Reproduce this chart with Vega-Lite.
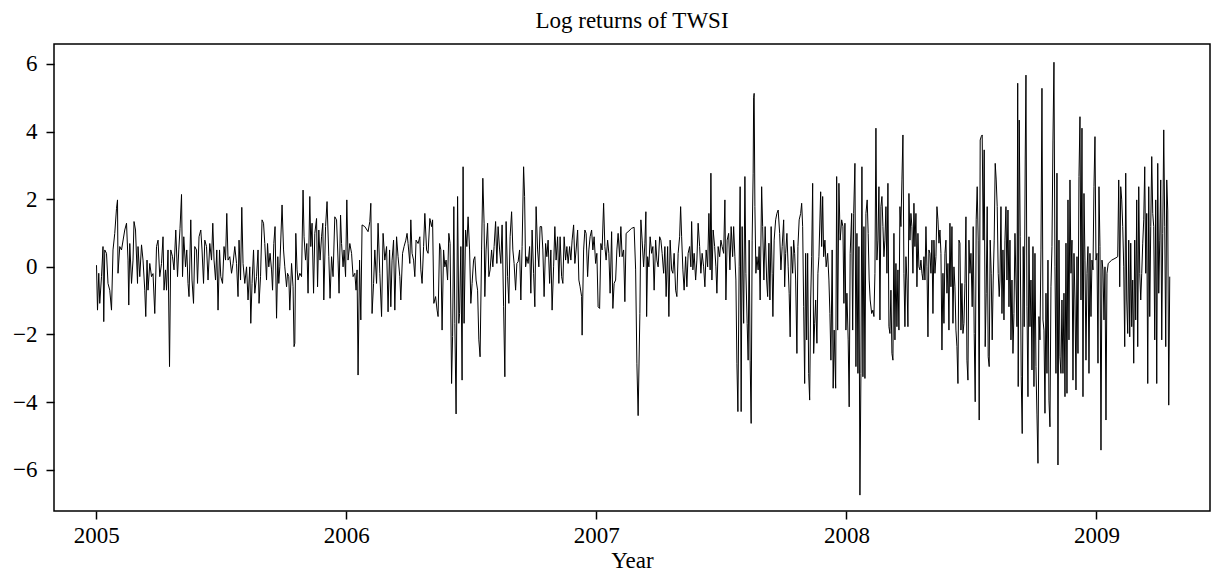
{
"$schema": "https://vega.github.io/schema/vega-lite/v6.json",
"width": 1156, "height": 467,
"autosize": {"type": "none"},
"padding": {"left": 54, "top": 44, "right": 1, "bottom": 66},
"background": "white",
"config": {"view": {"stroke": "black", "strokeWidth": 1.5}, "font": "Liberation Serif"},
"title": {"text": "Log returns of TWSI", "font": "Liberation Serif", "fontSize": 23, "fontWeight": "normal", "color": "black", "anchor": "middle", "offset": 11},
"data": {"values": [
{"t":2005.001,"v":0.05},{"t":2005.005,"v":-1.28},{"t":2005.010,"v":-0.19},{"t":2005.014,"v":-1.08},{"t":2005.021,"v":-0.29},{"t":2005.027,"v":0.60},{"t":2005.030,"v":-1.62},{"t":2005.034,"v":0.50},{"t":2005.041,"v":0.40},{"t":2005.047,"v":-0.49},{"t":2005.054,"v":-0.69},{"t":2005.061,"v":-1.28},{"t":2005.067,"v":0.50},{"t":2005.074,"v":0.99},{"t":2005.081,"v":1.73},{"t":2005.085,"v":1.98},{"t":2005.087,"v":-0.19},{"t":2005.094,"v":0.60},{"t":2005.101,"v":0.50},{"t":2005.114,"v":1.09},{"t":2005.121,"v":1.29},{"t":2005.127,"v":0.20},{"t":2005.130,"v":-1.13},{"t":2005.134,"v":0.69},{"t":2005.141,"v":-0.49},{"t":2005.147,"v":0.20},{"t":2005.151,"v":1.34},{"t":2005.157,"v":1.09},{"t":2005.165,"v":-0.49},{"t":2005.167,"v":0.60},{"t":2005.174,"v":-0.29},{"t":2005.181,"v":0.65},{"t":2005.187,"v":0.20},{"t":2005.194,"v":-0.69},{"t":2005.198,"v":-1.47},{"t":2005.203,"v":0.20},{"t":2005.207,"v":-0.69},{"t":2005.214,"v":0.10},{"t":2005.221,"v":-0.29},{"t":2005.227,"v":-0.20},{"t":2005.234,"v":-1.38},{"t":2005.241,"v":0.60},{"t":2005.247,"v":0.79},{"t":2005.254,"v":-0.29},{"t":2005.261,"v":0.10},{"t":2005.267,"v":0.89},{"t":2005.271,"v":-0.69},{"t":2005.277,"v":-0.09},{"t":2005.281,"v":-0.69},{"t":2005.287,"v":0.50},{"t":2005.293,"v":-2.95},{"t":2005.298,"v":0.50},{"t":2005.305,"v":0.30},{"t":2005.311,"v":-0.09},{"t":2005.318,"v":1.09},{"t":2005.325,"v":-0.29},{"t":2005.330,"v":0.50},{"t":2005.335,"v":1.14},{"t":2005.341,"v":2.14},{"t":2005.345,"v":-0.29},{"t":2005.350,"v":0.89},{"t":2005.357,"v":0.00},{"t":2005.362,"v":0.50},{"t":2005.367,"v":-0.49},{"t":2005.371,"v":-0.88},{"t":2005.378,"v":1.39},{"t":2005.383,"v":-0.39},{"t":2005.389,"v":-1.08},{"t":2005.394,"v":0.60},{"t":2005.401,"v":0.50},{"t":2005.405,"v":-0.49},{"t":2005.411,"v":0.89},{"t":2005.418,"v":1.09},{"t":2005.423,"v":0.50},{"t":2005.429,"v":-0.49},{"t":2005.434,"v":0.79},{"t":2005.441,"v":0.60},{"t":2005.447,"v":-0.39},{"t":2005.454,"v":0.69},{"t":2005.461,"v":0.20},{"t":2005.466,"v":1.29},{"t":2005.471,"v":0.20},{"t":2005.477,"v":-0.39},{"t":2005.482,"v":0.50},{"t":2005.487,"v":-1.28},{"t":2005.493,"v":0.50},{"t":2005.498,"v":-0.29},{"t":2005.505,"v":-0.49},{"t":2005.511,"v":0.60},{"t":2005.517,"v":0.20},{"t":2005.522,"v":1.58},{"t":2005.527,"v":0.20},{"t":2005.534,"v":0.30},{"t":2005.541,"v":-0.19},{"t":2005.547,"v":0.10},{"t":2005.554,"v":0.60},{"t":2005.561,"v":0.10},{"t":2005.567,"v":-0.88},{"t":2005.571,"v":0.79},{"t":2005.577,"v":-0.39},{"t":2005.582,"v":1.76},{"t":2005.587,"v":0.10},{"t":2005.594,"v":-0.49},{"t":2005.601,"v":0.00},{"t":2005.607,"v":-0.98},{"t":2005.614,"v":0.00},{"t":2005.618,"v":-1.67},{"t":2005.623,"v":-0.49},{"t":2005.629,"v":0.50},{"t":2005.634,"v":-0.78},{"t":2005.641,"v":-0.29},{"t":2005.647,"v":0.50},{"t":2005.651,"v":-1.08},{"t":2005.657,"v":-0.29},{"t":2005.663,"v":1.39},{"t":2005.669,"v":1.29},{"t":2005.674,"v":0.69},{"t":2005.681,"v":-0.39},{"t":2005.685,"v":0.69},{"t":2005.690,"v":0.00},{"t":2005.695,"v":0.40},{"t":2005.701,"v":-0.09},{"t":2005.705,"v":-0.69},{"t":2005.710,"v":0.69},{"t":2005.715,"v":1.19},{"t":2005.721,"v":-1.52},{"t":2005.726,"v":0.30},{"t":2005.730,"v":-0.49},
{"t":2005.734,"v":0.00},{"t":2005.743,"v":1.83},{"t":2005.749,"v":0.50},{"t":2005.754,"v":0.00},{"t":2005.761,"v":-0.59},{"t":2005.765,"v":-0.19},{"t":2005.770,"v":-0.29},{"t":2005.774,"v":-1.28},{"t":2005.781,"v":0.10},{"t":2005.787,"v":-0.59},{"t":2005.791,"v":-2.36},{"t":2005.794,"v":-2.26},{"t":2005.798,"v":0.99},{"t":2005.803,"v":-0.09},{"t":2005.807,"v":-0.39},{"t":2005.814,"v":-0.19},{"t":2005.821,"v":-0.29},{"t":2005.827,"v":2.27},{"t":2005.831,"v":0.89},{"t":2005.837,"v":0.20},{"t":2005.842,"v":0.69},{"t":2005.847,"v":-0.78},{"t":2005.854,"v":2.08},{"t":2005.858,"v":0.60},{"t":2005.863,"v":1.29},{"t":2005.869,"v":-0.78},{"t":2005.874,"v":0.99},{"t":2005.881,"v":1.43},{"t":2005.885,"v":-0.59},{"t":2005.890,"v":1.09},{"t":2005.895,"v":0.20},{"t":2005.901,"v":0.89},{"t":2005.906,"v":1.29},{"t":2005.910,"v":-0.98},{"t":2005.917,"v":1.19},{"t":2005.923,"v":1.93},{"t":2005.930,"v":0.30},{"t":2005.935,"v":-0.93},{"t":2005.941,"v":0.30},{"t":2005.947,"v":-0.29},{"t":2005.954,"v":1.48},{"t":2005.961,"v":1.39},{"t":2005.967,"v":0.20},{"t":2005.971,"v":-0.78},{"t":2005.977,"v":1.53},{"t":2005.981,"v":0.69},{"t":2005.987,"v":0.00},{"t":2005.991,"v":0.50},{"t":2005.997,"v":-0.29},{"t":2006.002,"v":1.98},{"t":2006.007,"v":0.20},{"t":2006.014,"v":0.69},{"t":2006.021,"v":0.40},{"t":2006.027,"v":-0.29},{"t":2006.034,"v":-0.19},{"t":2006.039,"v":-0.69},{"t":2006.043,"v":-0.09},{"t":2006.047,"v":-3.20},{"t":2006.053,"v":0.20},{"t":2006.058,"v":-1.57},{"t":2006.063,"v":1.24},{"t":2006.074,"v":1.19},{"t":2006.087,"v":1.04},{"t":2006.094,"v":1.34},{"t":2006.098,"v":1.88},{"t":2006.103,"v":-1.38},{"t":2006.109,"v":-0.49},{"t":2006.114,"v":0.50},{"t":2006.121,"v":-0.49},{"t":2006.127,"v":1.29},{"t":2006.134,"v":-0.19},{"t":2006.141,"v":-1.47},{"t":2006.147,"v":0.99},{"t":2006.154,"v":0.20},{"t":2006.161,"v":0.60},{"t":2006.167,"v":-1.33},{"t":2006.173,"v":0.50},{"t":2006.178,"v":-1.18},{"t":2006.183,"v":0.20},{"t":2006.189,"v":0.79},{"t":2006.194,"v":-1.28},{"t":2006.201,"v":0.89},{"t":2006.207,"v":0.30},{"t":2006.214,"v":-0.29},{"t":2006.218,"v":-0.98},{"t":2006.225,"v":0.40},{"t":2006.231,"v":0.60},{"t":2006.238,"v":0.79},{"t":2006.243,"v":0.99},{"t":2006.247,"v":0.69},{"t":2006.254,"v":0.10},{"t":2006.258,"v":1.39},{"t":2006.263,"v":0.40},{"t":2006.269,"v":0.20},{"t":2006.274,"v":-0.29},{"t":2006.279,"v":0.79},{"t":2006.287,"v":0.69},{"t":2006.294,"v":0.89},{"t":2006.298,"v":-0.09},{"t":2006.303,"v":-0.49},{"t":2006.309,"v":0.60},{"t":2006.314,"v":1.58},{"t":2006.321,"v":0.50},{"t":2006.327,"v":0.40},{"t":2006.334,"v":1.43},{"t":2006.341,"v":1.19},{"t":2006.345,"v":1.39},{"t":2006.350,"v":-1.08},{"t":2006.357,"v":-0.88},{"t":2006.363,"v":-1.28},{"t":2006.367,"v":-1.47},{"t":2006.373,"v":0.69},{"t":2006.378,"v":0.50},{"t":2006.383,"v":-1.87},{"t":2006.389,"v":0.50},{"t":2006.394,"v":0.00},{"t":2006.399,"v":0.20},{"t":2006.405,"v":-0.39},{"t":2006.410,"v":0.99},{"t":2006.415,"v":0.69},{"t":2006.421,"v":-3.45},{"t":2006.425,"v":-2.06},{"t":2006.430,"v":1.78},{"t":2006.434,"v":-1.67},{"t":2006.439,"v":-4.35},{"t":2006.445,"v":2.08},{"t":2006.450,"v":-1.67},
{"t":2006.453,"v":-1.38},{"t":2006.458,"v":0.60},{"t":2006.463,"v":-3.35},{"t":2006.467,"v":2.96},{"t":2006.471,"v":-1.67},{"t":2006.477,"v":1.09},{"t":2006.482,"v":0.60},{"t":2006.487,"v":1.48},{"t":2006.493,"v":0.50},{"t":2006.498,"v":-1.08},{"t":2006.503,"v":-0.49},{"t":2006.509,"v":0.20},{"t":2006.514,"v":0.30},{"t":2006.519,"v":-0.39},{"t":2006.525,"v":-0.69},{"t":2006.530,"v":-2.16},{"t":2006.535,"v":-2.66},{"t":2006.541,"v":0.50},{"t":2006.546,"v":2.62},{"t":2006.551,"v":1.29},{"t":2006.554,"v":-0.88},{"t":2006.559,"v":0.50},{"t":2006.565,"v":1.29},{"t":2006.570,"v":-0.29},{"t":2006.575,"v":-0.09},{"t":2006.581,"v":0.50},{"t":2006.586,"v":0.00},{"t":2006.591,"v":0.60},{"t":2006.597,"v":1.34},{"t":2006.602,"v":0.10},{"t":2006.607,"v":1.19},{"t":2006.613,"v":0.50},{"t":2006.618,"v":0.10},{"t":2006.623,"v":1.24},{"t":2006.629,"v":-1.18},{"t":2006.634,"v":-3.25},{"t":2006.639,"v":1.34},{"t":2006.645,"v":-0.29},{"t":2006.650,"v":-1.08},{"t":2006.655,"v":0.89},{"t":2006.661,"v":1.63},{"t":2006.666,"v":0.50},{"t":2006.671,"v":0.10},{"t":2006.677,"v":-0.69},{"t":2006.682,"v":0.10},{"t":2006.687,"v":0.15},{"t":2006.693,"v":0.50},{"t":2006.698,"v":-0.98},{"t":2006.703,"v":0.60},{"t":2006.709,"v":2.96},{"t":2006.713,"v":2.08},{"t":2006.717,"v":0.00},{"t":2006.722,"v":0.30},{"t":2006.727,"v":0.10},{"t":2006.733,"v":0.60},{"t":2006.738,"v":-0.78},{"t":2006.743,"v":1.09},{"t":2006.749,"v":-0.19},{"t":2006.754,"v":-1.18},{"t":2006.759,"v":1.78},{"t":2006.765,"v":0.50},{"t":2006.770,"v":0.00},{"t":2006.775,"v":1.19},{"t":2006.781,"v":1.19},{"t":2006.786,"v":0.50},{"t":2006.791,"v":-0.88},{"t":2006.797,"v":0.69},{"t":2006.802,"v":0.30},{"t":2006.807,"v":0.79},{"t":2006.813,"v":-0.49},{"t":2006.818,"v":0.50},{"t":2006.823,"v":-1.28},{"t":2006.829,"v":0.00},{"t":2006.834,"v":1.19},{"t":2006.839,"v":0.20},{"t":2006.845,"v":0.89},{"t":2006.850,"v":-0.49},{"t":2006.855,"v":0.89},{"t":2006.861,"v":-0.29},{"t":2006.866,"v":-0.49},{"t":2006.871,"v":0.89},{"t":2006.877,"v":0.20},{"t":2006.882,"v":0.60},{"t":2006.887,"v":0.10},{"t":2006.893,"v":0.60},{"t":2006.898,"v":0.20},{"t":2006.903,"v":0.79},{"t":2006.909,"v":1.24},{"t":2006.914,"v":0.10},{"t":2006.919,"v":0.50},{"t":2006.925,"v":1.09},{"t":2006.930,"v":-0.39},{"t":2006.935,"v":-0.59},{"t":2006.941,"v":-0.88},{"t":2006.943,"v":-2.02},{"t":2006.949,"v":0.50},{"t":2006.954,"v":1.09},{"t":2006.959,"v":0.99},{"t":2006.965,"v":-0.29},{"t":2006.970,"v":0.50},{"t":2006.975,"v":0.89},{"t":2006.981,"v":1.09},{"t":2006.986,"v":0.50},{"t":2006.991,"v":0.89},{"t":2006.997,"v":0.10},{"t":2007.002,"v":0.40},{"t":2007.007,"v":-1.18},{"t":2007.013,"v":-1.23},{"t":2007.018,"v":0.69},{"t":2007.023,"v":0.50},{"t":2007.029,"v":1.88},{"t":2007.034,"v":0.60},{"t":2007.039,"v":0.20},{"t":2007.045,"v":0.79},{"t":2007.050,"v":0.40},{"t":2007.055,"v":-0.78},{"t":2007.061,"v":1.04},{"t":2007.066,"v":-1.23},{"t":2007.071,"v":-0.49},{"t":2007.077,"v":-0.39},{"t":2007.082,"v":0.50},{"t":2007.087,"v":0.99},{"t":2007.093,"v":0.30},{"t":2007.098,"v":1.19},{"t":2007.103,"v":0.30},{"t":2007.109,"v":0.50},{"t":2007.114,"v":-1.03},{"t":2007.119,"v":0.99},{"t":2007.127,"v":1.04},{"t":2007.141,"v":1.14},{"t":2007.151,"v":1.17},{"t":2007.157,"v":-0.09},{"t":2007.162,"v":-2.85},{"t":2007.167,"v":-4.40},
{"t":2007.174,"v":-1.38},{"t":2007.178,"v":1.39},{"t":2007.183,"v":0.79},{"t":2007.189,"v":0.00},{"t":2007.194,"v":0.70},{"t":2007.198,"v":1.63},{"t":2007.201,"v":-1.47},{"t":2007.205,"v":0.30},{"t":2007.210,"v":0.00},{"t":2007.215,"v":0.89},{"t":2007.221,"v":0.40},{"t":2007.226,"v":0.60},{"t":2007.231,"v":-0.69},{"t":2007.237,"v":0.79},{"t":2007.242,"v":0.20},{"t":2007.247,"v":0.00},{"t":2007.253,"v":0.89},{"t":2007.258,"v":0.79},{"t":2007.263,"v":0.40},{"t":2007.269,"v":-0.19},{"t":2007.274,"v":0.60},{"t":2007.279,"v":-0.88},{"t":2007.285,"v":0.60},{"t":2007.290,"v":-1.47},{"t":2007.295,"v":0.79},{"t":2007.301,"v":-0.09},{"t":2007.306,"v":-0.19},{"t":2007.311,"v":0.40},{"t":2007.317,"v":-0.69},{"t":2007.322,"v":-0.88},{"t":2007.327,"v":0.40},{"t":2007.333,"v":0.89},{"t":2007.337,"v":1.78},{"t":2007.341,"v":0.89},{"t":2007.346,"v":-0.09},{"t":2007.351,"v":-0.69},{"t":2007.357,"v":0.30},{"t":2007.362,"v":-0.59},{"t":2007.367,"v":0.40},{"t":2007.373,"v":0.60},{"t":2007.378,"v":0.00},{"t":2007.381,"v":1.34},{"t":2007.386,"v":-0.09},{"t":2007.391,"v":0.40},{"t":2007.397,"v":-0.39},{"t":2007.402,"v":0.20},{"t":2007.407,"v":1.29},{"t":2007.413,"v":0.60},{"t":2007.418,"v":-0.19},{"t":2007.423,"v":0.40},{"t":2007.429,"v":0.00},{"t":2007.434,"v":-0.59},{"t":2007.439,"v":0.50},{"t":2007.445,"v":0.00},{"t":2007.450,"v":1.58},{"t":2007.455,"v":-0.09},{"t":2007.458,"v":2.77},{"t":2007.462,"v":-0.39},{"t":2007.467,"v":1.09},{"t":2007.473,"v":0.60},{"t":2007.478,"v":0.00},{"t":2007.482,"v":-0.78},{"t":2007.487,"v":0.60},{"t":2007.493,"v":0.30},{"t":2007.498,"v":0.79},{"t":2007.503,"v":0.60},{"t":2007.509,"v":0.40},{"t":2007.514,"v":1.98},{"t":2007.518,"v":-0.98},{"t":2007.523,"v":0.79},{"t":2007.529,"v":0.99},{"t":2007.534,"v":-0.09},{"t":2007.539,"v":1.19},{"t":2007.545,"v":0.30},{"t":2007.549,"v":1.19},{"t":2007.554,"v":0.30},{"t":2007.558,"v":-0.39},{"t":2007.562,"v":-2.85},{"t":2007.566,"v":-4.28},{"t":2007.571,"v":0.00},{"t":2007.575,"v":2.37},{"t":2007.579,"v":-4.28},{"t":2007.583,"v":1.19},{"t":2007.589,"v":-1.67},{"t":2007.594,"v":2.67},{"t":2007.598,"v":-0.19},{"t":2007.603,"v":-1.67},{"t":2007.607,"v":-2.76},{"t":2007.611,"v":0.79},{"t":2007.615,"v":-2.76},{"t":2007.619,"v":-4.63},{"t":2007.623,"v":0.79},{"t":2007.627,"v":2.77},{"t":2007.629,"v":5.00},{"t":2007.631,"v":5.13},{"t":2007.634,"v":1.78},{"t":2007.638,"v":-0.19},{"t":2007.642,"v":0.30},{"t":2007.647,"v":-0.09},{"t":2007.651,"v":0.60},{"t":2007.655,"v":-0.98},{"t":2007.661,"v":2.37},{"t":2007.665,"v":1.19},{"t":2007.670,"v":-0.39},{"t":2007.675,"v":1.19},{"t":2007.681,"v":-0.39},{"t":2007.685,"v":-0.88},{"t":2007.690,"v":0.70},{"t":2007.694,"v":-0.98},{"t":2007.699,"v":1.19},{"t":2007.703,"v":-0.19},{"t":2007.706,"v":-1.47},{"t":2007.711,"v":0.79},{"t":2007.717,"v":1.39},{"t":2007.722,"v":1.58},{"t":2007.727,"v":1.68},{"t":2007.733,"v":0.99},{"t":2007.738,"v":-0.09},{"t":2007.743,"v":0.60},{"t":2007.749,"v":1.39},{"t":2007.753,"v":-0.59},{"t":2007.757,"v":0.40},{"t":2007.762,"v":0.99},{"t":2007.767,"v":0.00},{"t":2007.771,"v":-0.78},{"t":2007.775,"v":-2.07},{"t":2007.779,"v":0.60},{"t":2007.785,"v":-0.19},{"t":2007.789,"v":0.79},{"t":2007.793,"v":0.40},{"t":2007.797,"v":-0.39},{"t":2007.802,"v":-2.56},{"t":2007.806,"v":0.60},{"t":2007.811,"v":1.39},{"t":2007.817,"v":1.58},{"t":2007.821,"v":1.88},{"t":2007.825,"v":1.19},{"t":2007.829,"v":-1.18},{"t":2007.833,"v":-3.45},{"t":2007.837,"v":0.40},{"t":2007.841,"v":-2.16},{"t":2007.845,"v":0.40},{"t":2007.849,"v":-3.15},{"t":2007.853,"v":-3.94},{"t":2007.857,"v":-0.98},{"t":2007.861,"v":0.30},{"t":2007.865,"v":2.47},{"t":2007.869,"v":-2.56},{"t":2007.873,"v":-1.67},{"t":2007.877,"v":-0.98},{"t":2007.882,"v":-2.26},{"t":2007.886,"v":-0.19},{"t":2007.890,"v":0.30},
{"t":2007.897,"v":2.22},{"t":2007.901,"v":0.60},{"t":2007.905,"v":2.08},{"t":2007.909,"v":0.30},{"t":2007.914,"v":0.79},{"t":2007.919,"v":0.00},{"t":2007.925,"v":0.40},{"t":2007.930,"v":-0.39},{"t":2007.934,"v":-1.38},{"t":2007.938,"v":-2.76},{"t":2007.943,"v":0.50},{"t":2007.947,"v":-3.59},{"t":2007.951,"v":-1.87},{"t":2007.957,"v":-3.59},{"t":2007.961,"v":2.67},{"t":2007.965,"v":-1.87},{"t":2007.970,"v":2.47},{"t":2007.975,"v":0.79},{"t":2007.981,"v":1.39},{"t":2007.986,"v":1.19},{"t":2007.990,"v":-1.08},{"t":2007.994,"v":1.29},{"t":2007.998,"v":-1.87},{"t":2008.002,"v":-0.78},{"t":2008.007,"v":-2.16},{"t":2008.011,"v":-4.14},{"t":2008.015,"v":0.40},{"t":2008.021,"v":1.58},{"t":2008.025,"v":-1.87},{"t":2008.029,"v":1.58},{"t":2008.034,"v":3.06},{"t":2008.038,"v":-2.95},{"t":2008.042,"v":0.99},{"t":2008.046,"v":-3.15},{"t":2008.050,"v":0.60},{"t":2008.054,"v":-6.75},{"t":2008.058,"v":-3.15},{"t":2008.062,"v":2.96},{"t":2008.066,"v":-3.25},{"t":2008.070,"v":1.19},{"t":2008.074,"v":-3.30},{"t":2008.078,"v":1.58},{"t":2008.083,"v":1.98},{"t":2008.087,"v":0.99},{"t":2008.091,"v":-0.39},{"t":2008.095,"v":-0.98},{"t":2008.101,"v":-1.38},{"t":2008.106,"v":-1.28},{"t":2008.110,"v":-1.47},{"t":2008.114,"v":-0.19},{"t":2008.118,"v":4.10},{"t":2008.122,"v":0.20},{"t":2008.126,"v":0.79},{"t":2008.130,"v":2.37},{"t":2008.134,"v":-1.57},{"t":2008.138,"v":1.78},{"t":2008.142,"v":2.08},{"t":2008.146,"v":1.19},{"t":2008.150,"v":0.30},{"t":2008.154,"v":0.79},{"t":2008.158,"v":1.78},{"t":2008.162,"v":-0.19},{"t":2008.166,"v":2.47},{"t":2008.170,"v":-1.77},{"t":2008.174,"v":-1.97},{"t":2008.178,"v":-0.69},{"t":2008.182,"v":-2.56},{"t":2008.186,"v":-2.76},{"t":2008.190,"v":0.99},{"t":2008.194,"v":-2.16},{"t":2008.198,"v":0.10},{"t":2008.202,"v":-1.77},{"t":2008.206,"v":-0.09},{"t":2008.210,"v":-1.87},{"t":2008.214,"v":1.78},{"t":2008.218,"v":1.19},{"t":2008.222,"v":2.57},{"t":2008.226,"v":3.90},{"t":2008.230,"v":-0.19},{"t":2008.234,"v":-1.77},{"t":2008.238,"v":0.30},{"t":2008.242,"v":-0.39},{"t":2008.246,"v":-1.77},{"t":2008.250,"v":2.17},{"t":2008.254,"v":0.79},{"t":2008.258,"v":1.58},{"t":2008.262,"v":1.19},{"t":2008.266,"v":-0.19},{"t":2008.270,"v":1.88},{"t":2008.274,"v":0.60},{"t":2008.278,"v":1.58},{"t":2008.282,"v":-0.59},{"t":2008.286,"v":0.99},{"t":2008.290,"v":0.00},{"t":2008.294,"v":-0.09},{"t":2008.298,"v":0.20},{"t":2008.302,"v":-0.19},{"t":2008.306,"v":-0.39},{"t":2008.310,"v":0.30},{"t":2008.314,"v":-0.39},{"t":2008.318,"v":1.19},{"t":2008.322,"v":0.00},{"t":2008.326,"v":-2.07},{"t":2008.330,"v":0.50},{"t":2008.334,"v":0.40},{"t":2008.338,"v":-0.19},{"t":2008.342,"v":0.79},{"t":2008.346,"v":-1.38},{"t":2008.350,"v":0.79},{"t":2008.354,"v":-0.19},{"t":2008.358,"v":0.30},{"t":2008.362,"v":1.78},{"t":2008.366,"v":1.39},{"t":2008.370,"v":0.70},{"t":2008.374,"v":1.09},{"t":2008.378,"v":0.40},{"t":2008.382,"v":-2.46},{"t":2008.386,"v":-0.19},{"t":2008.390,"v":-1.67},{"t":2008.394,"v":0.40},{"t":2008.398,"v":0.79},{"t":2008.402,"v":-0.78},{"t":2008.406,"v":0.10},{"t":2008.410,"v":-1.87},{"t":2008.414,"v":1.29},{"t":2008.418,"v":-0.59},{"t":2008.422,"v":1.19},{"t":2008.426,"v":-1.67},{"t":2008.430,"v":0.00},{"t":2008.434,"v":-0.59},{"t":2008.438,"v":-1.87},{"t":2008.442,"v":-2.36},{"t":2008.446,"v":-3.45},{"t":2008.450,"v":0.79},{"t":2008.454,"v":0.70},{"t":2008.458,"v":-1.87},{"t":2008.462,"v":-0.49},{"t":2008.466,"v":-1.97},{"t":2008.470,"v":-1.67},{"t":2008.474,"v":-0.49},{"t":2008.478,"v":1.48},{"t":2008.482,"v":-2.76},{"t":2008.486,"v":-3.35},{"t":2008.490,"v":0.79},{"t":2008.494,"v":-0.19},{"t":2008.498,"v":0.40},{"t":2008.503,"v":-1.18},{"t":2008.507,"v":1.19},{"t":2008.511,"v":-1.97},{"t":2008.515,"v":-3.99},{"t":2008.519,"v":1.39},{"t":2008.523,"v":2.37},{"t":2008.527,"v":0.79},{"t":2008.531,"v":-4.53},{"t":2008.535,"v":3.75},{"t":2008.539,"v":3.85},{"t":2008.543,"v":3.90},{"t":2008.547,"v":0.79},{"t":2008.551,"v":3.46},{"t":2008.555,"v":-2.36},{"t":2008.559,"v":-0.78},{"t":2008.563,"v":1.78},{"t":2008.567,"v":-2.66},{"t":2008.571,"v":-2.95},{"t":2008.575,"v":0.79},{"t":2008.579,"v":-0.19},{"t":2008.583,"v":-2.16},{"t":2008.587,"v":-0.39},{"t":2008.591,"v":0.79},{"t":2008.595,"v":3.06},{"t":2008.599,"v":2.57},{"t":2008.603,"v":1.78},{"t":2008.607,"v":-0.19},{"t":2008.611,"v":-0.88},
{"t":2008.614,"v":-0.39},{"t":2008.618,"v":1.78},{"t":2008.622,"v":-1.38},{"t":2008.626,"v":0.50},{"t":2008.630,"v":-1.57},{"t":2008.634,"v":0.79},{"t":2008.638,"v":1.78},{"t":2008.642,"v":-0.39},{"t":2008.646,"v":1.68},{"t":2008.650,"v":-1.18},{"t":2008.654,"v":0.79},{"t":2008.658,"v":-2.16},{"t":2008.662,"v":-0.39},{"t":2008.666,"v":-2.56},{"t":2008.670,"v":-1.38},{"t":2008.674,"v":0.99},{"t":2008.678,"v":-0.39},{"t":2008.682,"v":-1.77},{"t":2008.685,"v":5.43},{"t":2008.687,"v":-3.54},{"t":2008.691,"v":4.34},{"t":2008.695,"v":0.89},{"t":2008.699,"v":-3.25},{"t":2008.703,"v":-4.93},{"t":2008.707,"v":0.60},{"t":2008.711,"v":-1.77},{"t":2008.715,"v":3.16},{"t":2008.718,"v":5.67},{"t":2008.722,"v":-1.18},{"t":2008.726,"v":-3.84},{"t":2008.730,"v":0.89},{"t":2008.734,"v":-1.77},{"t":2008.738,"v":-0.39},{"t":2008.742,"v":-3.05},{"t":2008.746,"v":0.60},{"t":2008.750,"v":-3.54},{"t":2008.754,"v":0.40},{"t":2008.758,"v":-2.95},{"t":2008.762,"v":-4.38},{"t":2008.766,"v":-5.81},{"t":2008.770,"v":-1.47},{"t":2008.774,"v":-2.16},{"t":2008.778,"v":0.50},{"t":2008.782,"v":5.28},{"t":2008.786,"v":-1.57},{"t":2008.790,"v":-1.87},{"t":2008.794,"v":-4.33},{"t":2008.798,"v":-0.78},{"t":2008.802,"v":-3.15},{"t":2008.806,"v":0.20},{"t":2008.810,"v":-3.94},{"t":2008.814,"v":-4.73},{"t":2008.818,"v":-0.59},{"t":2008.822,"v":0.60},{"t":2008.826,"v":3.75},{"t":2008.830,"v":6.05},{"t":2008.834,"v":0.00},{"t":2008.838,"v":-3.15},{"t":2008.842,"v":2.77},{"t":2008.846,"v":-5.86},{"t":2008.850,"v":0.79},{"t":2008.854,"v":-2.66},{"t":2008.858,"v":-3.15},{"t":2008.862,"v":-0.98},{"t":2008.866,"v":-3.15},{"t":2008.870,"v":-0.78},{"t":2008.874,"v":-3.84},{"t":2008.878,"v":0.70},{"t":2008.882,"v":-3.74},{"t":2008.886,"v":1.98},{"t":2008.890,"v":-2.16},{"t":2008.894,"v":2.57},{"t":2008.898,"v":-0.19},{"t":2008.902,"v":0.79},{"t":2008.906,"v":-3.35},{"t":2008.910,"v":0.40},{"t":2008.914,"v":-0.98},{"t":2008.918,"v":-3.64},{"t":2008.922,"v":0.30},{"t":2008.926,"v":-2.56},{"t":2008.930,"v":2.67},{"t":2008.934,"v":4.44},{"t":2008.938,"v":-0.98},{"t":2008.942,"v":4.10},{"t":2008.946,"v":-3.84},{"t":2008.950,"v":2.17},{"t":2008.954,"v":0.20},{"t":2008.958,"v":-2.76},{"t":2008.962,"v":-0.19},{"t":2008.966,"v":0.60},{"t":2008.970,"v":-3.15},{"t":2008.974,"v":0.40},{"t":2008.978,"v":-1.47},{"t":2008.982,"v":0.20},{"t":2008.986,"v":-0.09},{"t":2008.990,"v":2.37},{"t":2008.994,"v":3.85},{"t":2008.998,"v":0.20},{"t":2009.002,"v":0.40},{"t":2009.006,"v":-2.85},{"t":2009.010,"v":2.37},{"t":2009.014,"v":0.60},{"t":2009.018,"v":-5.42},{"t":2009.022,"v":0.20},{"t":2009.026,"v":-0.09},{"t":2009.030,"v":-1.57},{"t":2009.034,"v":0.00},{"t":2009.038,"v":-4.53},{"t":2009.042,"v":-0.19},{"t":2009.047,"v":0.10},{"t":2009.061,"v":0.20},{"t":2009.074,"v":0.25},{"t":2009.085,"v":0.30},{"t":2009.089,"v":2.57},{"t":2009.093,"v":-0.59},{"t":2009.097,"v":2.37},{"t":2009.101,"v":1.98},{"t":2009.105,"v":1.19},{"t":2009.109,"v":0.00},{"t":2009.113,"v":-2.36},{"t":2009.117,"v":2.77},{"t":2009.121,"v":-0.98},{"t":2009.125,"v":-1.97},{"t":2009.129,"v":0.79},{"t":2009.133,"v":-2.07},{"t":2009.137,"v":0.70},{"t":2009.141,"v":-1.77},{"t":2009.145,"v":-0.39},{"t":2009.149,"v":-2.85},{"t":2009.153,"v":0.79},{"t":2009.157,"v":-1.57},{"t":2009.161,"v":1.98},{"t":2009.165,"v":-2.36},{"t":2009.169,"v":2.37},{"t":2009.173,"v":-0.19},{"t":2009.177,"v":-0.98},{"t":2009.181,"v":-0.19},{"t":2009.185,"v":0.70},{"t":2009.189,"v":1.39},{"t":2009.193,"v":2.96},{"t":2009.197,"v":-0.19},{"t":2009.201,"v":1.58},{"t":2009.205,"v":-3.45},{"t":2009.209,"v":2.37},{"t":2009.213,"v":-1.47},{"t":2009.217,"v":1.19},{"t":2009.221,"v":3.26},{"t":2009.225,"v":1.58},{"t":2009.229,"v":1.19},{"t":2009.233,"v":-2.16},{"t":2009.237,"v":1.98},{"t":2009.241,"v":-3.45},{"t":2009.245,"v":3.06},{"t":2009.249,"v":-0.78},{"t":2009.253,"v":0.79},{"t":2009.257,"v":2.57},{"t":2009.261,"v":-2.16},{"t":2009.265,"v":0.99},{"t":2009.269,"v":4.05},{"t":2009.273,"v":1.19},{"t":2009.277,"v":-2.36},{"t":2009.281,"v":2.57},{"t":2009.285,"v":1.68},{"t":2009.289,"v":-4.09},{"t":2009.293,"v":-0.29}
]},
"mark": {"type": "line", "color": "black", "strokeWidth": 1, "clip": true},
"encoding": {
"x": {"field": "t", "type": "quantitative",
"scale": {"domain": [2004.831, 2009.454], "nice": false, "zero": false},
"axis": {"values": [2005, 2006, 2007, 2008, 2009], "format": "d", "title": "Year", "grid": false, "domain": false,
"tickSize": 8, "tickWidth": 1.5, "tickColor": "black", "labelFont": "Liberation Serif", "labelFontSize": 23, "labelColor": "black", "labelPadding": 5,
"titleFont": "Liberation Serif", "titleFontSize": 23, "titleFontWeight": "normal", "titleColor": "black", "titlePadding": 2}},
"y": {"field": "v", "type": "quantitative",
"scale": {"domain": [-7.22, 6.59], "nice": false, "zero": false},
"axis": {"values": [-6, -4, -2, 0, 2, 4, 6], "format": "d", "title": null, "grid": false, "domain": false,
"tickSize": 8, "tickWidth": 1.5, "tickColor": "black", "labelFont": "Liberation Serif", "labelFontSize": 23, "labelColor": "black", "labelPadding": 9}}
}
}
